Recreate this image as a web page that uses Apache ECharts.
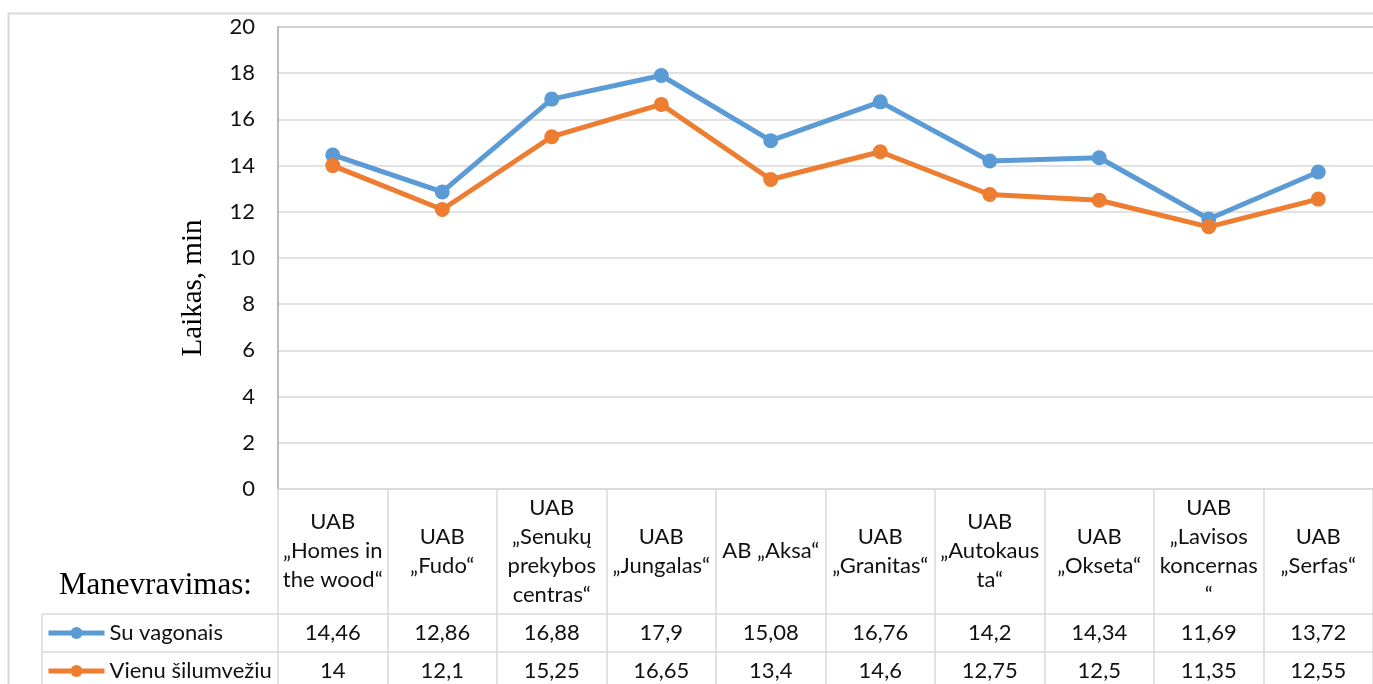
<!DOCTYPE html>
<html>
<head>
<meta charset="utf-8">
<script src="https://cdn.jsdelivr.net/npm/echarts@6/dist/echarts.min.js"></script>
<style>
  html, body { margin: 0; padding: 0; background: #fff; }
  #chart { width: 1373px; height: 684px; }
</style>
</head>
<body>
<div id="chart"></div>
<script>
// Companies (header row of the data table, wrapped as shown)
const categories = [
  'UAB\n„Homes in\nthe wood“',
  'UAB\n„Fudo“',
  'UAB\n„Senukų\nprekybos\ncentras“',
  'UAB\n„Jungalas“',
  'AB „Aksa“',
  'UAB\n„Granitas“',
  'UAB\n„Autokaus\nta“',
  'UAB\n„Okseta“',
  'UAB\n„Lavisos\nkoncernas\n“',
  'UAB\n„Serfas“'
];

// Manoeuvring time, minutes
const suVagonais = [14.46, 12.86, 16.88, 17.9, 15.08, 16.76, 14.2, 14.34, 11.69, 13.72];
const vienuSilumveziu = [14, 12.1, 15.25, 16.65, 13.4, 14.6, 12.75, 12.5, 11.35, 12.55];

const seriesNames = ['Su vagonais', 'Vienu šilumvežiu'];
const seriesColors = ['#5B9BD5', '#ED7D31'];

// Value axis ticks
const yMin = 0, yMax = 20, yStep = 2;

const fmt = v => String(v).replace('.', ',');

const FONT = 'Lato, "Open Sans", sans-serif';
const SERIF = '"Liberation Serif", "DejaVu Serif", serif';
const GRID = { left: 278, top: 27, width: 1103, height: 462 };
const ROW1_TOP = 614, ROW2_TOP = 652, TABLE_BOTTOM = 690;
const ROW_CENTERS = [(ROW1_TOP + ROW2_TOP) / 2, (ROW2_TOP + TABLE_BOTTOM) / 2];
const LINE_GRAY = '#d9d9d9';
const AXIS_BOTTOM = GRID.top + GRID.height;

const chart = echarts.init(document.getElementById('chart'), null, { renderer: 'canvas' });

// one table row of values, laid out on its own category axis
const valueRowAxis = (data, center) => ({
  type: 'category',
  gridIndex: 0,
  position: 'bottom',
  offset: center - AXIS_BOTTOM,
  data: data.map(fmt),
  axisLine: { show: false },
  axisTick: { show: false },
  splitLine: { show: false },
  axisLabel: {
    interval: 0, margin: 0, verticalAlign: 'middle',
    fontFamily: FONT, fontSize: 22, color: '#111'
  }
});

// legend key in the first column of each table row
const rowLegend = (name, center) => ({
  orient: 'horizontal',
  left: 46,
  top: center - 11,
  padding: 0,
  itemWidth: 56,
  itemHeight: 15,
  itemGap: 4,
  selectedMode: false,
  lineStyle: { width: 5 },
  textStyle: { fontFamily: FONT, fontSize: 22, color: '#111', lineHeight: 22 },
  data: [name]
});

chart.setOption({
  animation: false,
  backgroundColor: '#fff',
  grid: Object.assign({ containLabel: false }, GRID),
  legend: [
    rowLegend(seriesNames[0], ROW_CENTERS[0]),
    rowLegend(seriesNames[1], ROW_CENTERS[1])
  ],
  xAxis: [
    {
      type: 'category',
      data: categories,
      boundaryGap: true,
      axisLine: { lineStyle: { color: LINE_GRAY, width: 1.5 } },
      axisTick: { show: true, alignWithLabel: false, length: TABLE_BOTTOM - AXIS_BOTTOM, lineStyle: { color: LINE_GRAY, width: 1.5 } },
      splitLine: { show: false },
      axisLabel: {
        interval: 0, margin: 62, verticalAlign: 'middle', align: 'center',
        fontFamily: FONT, fontSize: 22, lineHeight: 29, color: '#111'
      }
    },
    valueRowAxis(suVagonais, ROW_CENTERS[0]),
    valueRowAxis(vienuSilumveziu, ROW_CENTERS[1])
  ],
  yAxis: {
    type: 'value',
    min: yMin, max: yMax, interval: yStep,
    axisLine: { show: true, lineStyle: { color: '#a6a6a6', width: 1.5 } },
    axisTick: { show: false },
    splitLine: { lineStyle: { color: LINE_GRAY, width: 1.5 } },
    axisLabel: { margin: 23, fontFamily: FONT, fontSize: 22, color: '#111' }
  },
  series: [
    {
      name: seriesNames[0], type: 'line', data: suVagonais,
      color: seriesColors[0], symbol: 'circle', symbolSize: 15,
      lineStyle: { width: 5, color: seriesColors[0] },
      itemStyle: { color: seriesColors[0] },
      emphasis: { disabled: true }
    },
    {
      name: seriesNames[1], type: 'line', data: vienuSilumveziu,
      color: seriesColors[1], symbol: 'circle', symbolSize: 15,
      lineStyle: { width: 5, color: seriesColors[1] },
      itemStyle: { color: seriesColors[1] },
      emphasis: { disabled: true }
    }
  ],
  graphic: [
    // outer chart frame
    { type: 'polyline', silent: true, shape: { points: [[8.5, 700], [8.5, 13.5], [1400, 13.5]] }, style: { stroke: LINE_GRAY, lineWidth: 2, fill: null } },
    // plot area top edge
    { type: 'line', silent: true, shape: { x1: GRID.left, y1: GRID.top, x2: GRID.left + GRID.width, y2: GRID.top }, style: { stroke: '#a6a6a6', lineWidth: 1.5 } },
    // data table rows
    { type: 'line', silent: true, shape: { x1: 42, y1: ROW1_TOP, x2: GRID.left + GRID.width, y2: ROW1_TOP }, style: { stroke: LINE_GRAY, lineWidth: 1.5 } },
    { type: 'line', silent: true, shape: { x1: 42, y1: ROW2_TOP, x2: GRID.left + GRID.width, y2: ROW2_TOP }, style: { stroke: LINE_GRAY, lineWidth: 1.5 } },
    { type: 'line', silent: true, shape: { x1: 42, y1: ROW1_TOP, x2: 42, y2: TABLE_BOTTOM }, style: { stroke: LINE_GRAY, lineWidth: 1.5 } },
    // axis title
    {
      type: 'text', silent: true, x: 193, y: 288, rotation: Math.PI / 2,
      style: { text: 'Laikas, min', font: '29px ' + SERIF, fill: '#000', align: 'center', verticalAlign: 'middle' }
    },
    {
      type: 'text', silent: true, x: 59, y: 586,
      style: { text: 'Manevravimas:', font: '31px ' + SERIF, fill: '#000', align: 'left', verticalAlign: 'middle' }
    }
  ]
});
</script>
</body>
</html>
